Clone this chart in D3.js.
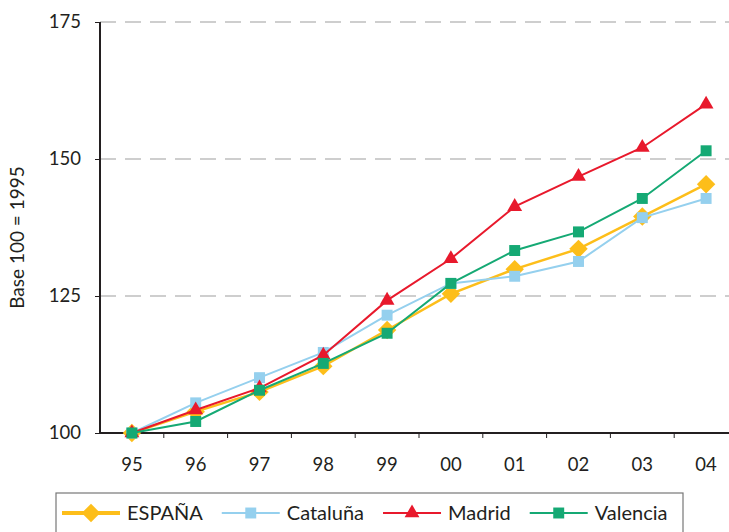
<!DOCTYPE html>
<html>
<head>
<meta charset="utf-8">
<script src="https://cdn.jsdelivr.net/npm/d3@7"></script>
<style>
  body { margin: 0; background: #fff; }
  svg text { font-family: Lato, "Open Sans", sans-serif; fill: #231f20; }
  .axis path, .axis line { stroke: #231f20; }
</style>
</head>
<body>
<div id="chart"></div>
<script>
const years = ["95", "96", "97", "98", "99", "00", "01", "02", "03", "04"];
const espana   = [100, 103.9, 107.5, 112.2, 118.8, 125.4, 129.9, 133.6, 139.5, 145.4];
const cataluna = [100, 105.5, 110.1, 114.7, 121.5, 127.3, 128.6, 131.3, 139.3, 142.8];
const madrid   = [100, 104.2, 108.2, 114.2, 124.2, 131.8, 141.3, 146.8, 152.1, 160.0];
const valencia = [100, 102.1, 107.8, 112.7, 118.2, 127.3, 133.3, 136.7, 142.8, 151.5];
const yTicks = [100, 125, 150, 175];

const series = [
    { name: "ESPAÑA", values: espana, color: "#fdbe1a", width: 2.5, symbol: "diamond" },
    { name: "Cataluña", values: cataluna, color: "#95d0ee", width: 2, symbol: "square" },
    { name: "Madrid", values: madrid, color: "#e8192c", width: 2, symbol: "triangle" },
    { name: "Valencia", values: valencia, color: "#15a974", width: 2, symbol: "square" },
];

const width = 729, height = 532;
const margin = { top: 22, right: -9, bottom: 99, left: 100 };
const innerW = width - margin.left - margin.right;
const innerH = height - margin.top - margin.bottom;

const svg = d3.select("#chart").append("svg")
    .attr("width", width)
    .attr("height", height);

const chart = svg.append("g")
    .attr("transform", `translate(${margin.left},${margin.top})`);

const x = d3.scaleBand().domain(years).range([0, innerW]);
const y = d3.scaleLinear().domain([100, 175]).range([innerH, 0]);

// dashed gridlines
chart.selectAll(".grid")
    .data(yTicks.filter(d => d > 100))
    .join("line")
    .attr("class", "grid")
    .attr("x1", 0)
    .attr("x2", innerW)
    .attr("y1", d => y(d))
    .attr("y2", d => y(d))
    .attr("stroke", "#9d9d9d")
    .attr("stroke-width", 1.2)
    .attr("stroke-dasharray", "16,9");

const yAxis = chart.append("g")
    .attr("class", "axis")
    .call(d3.axisLeft(y).tickValues(yTicks).tickSize(5).tickPadding(14));
yAxis.select(".domain").attr("stroke-width", 2).attr("d", `M0,${innerH}V0`);
yAxis.selectAll(".tick line").attr("stroke", "#777");
yAxis.selectAll("text").attr("font-size", 18.5).attr("fill", "#231f20");

const xAxis = chart.append("g")
    .attr("class", "axis")
    .attr("transform", `translate(0,${innerH})`)
    .call(d3.axisBottom(x).tickSize(0).tickPadding(25));
xAxis.select(".domain").attr("stroke-width", 2).attr("d", `M0,0H${innerW}`);
xAxis.selectAll("text").attr("font-size", 18.5).attr("fill", "#231f20");
// tick marks at band edges
xAxis.selectAll(".edge")
    .data(years.slice(1))
    .join("line")
    .attr("class", "edge")
    .attr("x1", d => x(d))
    .attr("x2", d => x(d))
    .attr("y1", 0)
    .attr("y2", 5)
    .attr("stroke", "#777");

svg.append("text")
    .attr("transform", `translate(24,${margin.top + innerH / 2 + 10}) rotate(-90)`)
    .attr("text-anchor", "middle")
    .attr("font-size", 19)
    .text("Base 100 = 1995");

const symbolFor = (s) => {
    if (s.symbol === "diamond") return d3.symbol().type(d3.symbolSquare).size(170)();
    if (s.symbol === "triangle") return d3.symbol().type(d3.symbolTriangle).size(95)();
    return d3.symbol().type(d3.symbolSquare).size(120)();
};

const cx = (i) => x(years[i]) + x.bandwidth() / 2;
const line = d3.line().x((d, i) => cx(i)).y(d => y(d));

series.forEach(s => {
    const g = chart.append("g");
    g.append("path")
        .datum(s.values)
        .attr("d", line)
        .attr("fill", "none")
        .attr("stroke", s.color)
        .attr("stroke-width", s.width);
    g.selectAll("path.mark")
        .data(s.values)
        .join("path")
        .attr("class", "mark")
        .attr("d", symbolFor(s))
        .attr("transform", (d, i) => `translate(${cx(i)},${y(d)})${s.symbol === "diamond" ? " rotate(45)" : ""}`)
        .attr("fill", s.color);
});

// legend
const legend = svg.append("g").attr("transform", "translate(56,493)");
legend.append("rect")
    .attr("x", 0).attr("y", 0)
    .attr("width", 627).attr("height", 50)
    .attr("fill", "#fff")
    .attr("stroke", "#777")
    .attr("stroke-width", 1.2);

let lx = 6;
series.forEach(s => {
    const item = legend.append("g").attr("transform", `translate(${lx},20)`);
    item.append("line")
        .attr("x1", 0).attr("x2", 58)
        .attr("stroke", s.color)
        .attr("stroke-width", s.symbol === "diamond" ? 4 : s.width);
    item.append("path")
        .attr("d", symbolFor(s))
        .attr("transform", `translate(29,0)${s.symbol === "diamond" ? " rotate(45)" : ""}`)
        .attr("fill", s.color);
    const t = item.append("text")
        .attr("x", 65)
        .attr("y", 7)
        .attr("font-size", 20)
        .text(s.name);
    lx += 65 + t.node().getComputedTextLength() + 19;
});
</script>
</body>
</html>
